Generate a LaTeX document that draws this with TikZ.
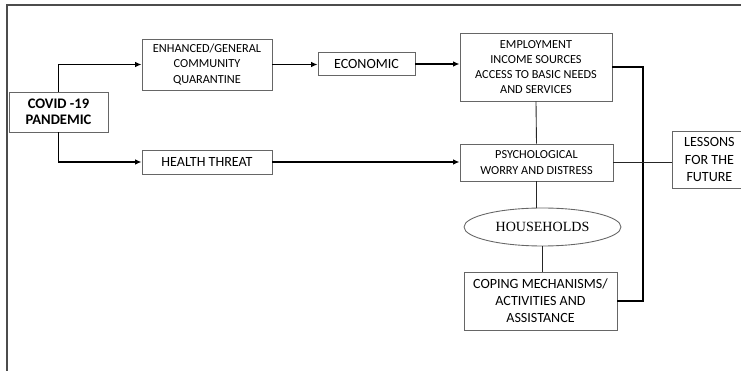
\documentclass[tikz,border=0pt]{standalone}
\usepackage{fontspec}
\setmainfont{Carlito}
\newfontfamily\hhserif{Liberation Serif}
\usepackage{tikz}
\usetikzlibrary{arrows.meta,positioning,shapes.geometric}

\begin{document}
\begin{tikzpicture}[
  x=0.02cm, y=-0.02cm,
  font=\fontsize{7}{8.6}\selectfont,
  box/.style   ={rectangle, draw=black!60, line width=0.5pt, fill=white,
                 inner sep=1pt, align=center},
  oval/.style  ={ellipse, draw=black!60, line width=0.5pt, inner sep=0pt,
                 font=\hhserif\fontsize{8}{9}\selectfont},
  arr/.style   ={-{Latex[length=1.3mm,width=1.1mm]}, draw=black, line width=0.8pt},
  lnk/.style   ={draw=black, line width=0.8pt},
  thin/.style  ={draw=black!85, line width=0.5pt},
  frame/.style ={draw=black!70, line width=0.9pt}
]
\useasboundingbox (0,0) rectangle (741,371);

% outer frame (only top and left show)
\draw[frame] (741,5) -- (7,5) -- (7,371);

\node[box, minimum width=1.98cm, minimum height=0.8cm,
      font=\bfseries\fontsize{8.3}{9}\selectfont] (covid) at (58.5,112) {COVID -19\\PANDEMIC};
\node[box, minimum width=2.6cm, minimum height=1.02cm] (quar) at (207,64.5)
      {ENHANCED/GENERAL\\COMMUNITY\\QUARANTINE};
\node[box, minimum width=1.94cm, minimum height=0.46cm,
      font=\fontsize{8}{9}\selectfont] (econ) at (366.5,64) {ECONOMIC};
\node[box, minimum width=3.04cm, minimum height=1.36cm] (emp) at (536,67)
      {EMPLOYMENT\\INCOME SOURCES\\ACCESS TO BASIC NEEDS\\AND SERVICES};
\node[box, minimum width=2.6cm, minimum height=0.48cm,
      font=\fontsize{8}{9}\selectfont] (health) at (207,162) {HEALTH THREAT};
\node[box, minimum width=3.06cm, minimum height=0.74cm] (psych) at (536.5,162.5)
      {PSYCHOLOGICAL\\WORRY AND DISTRESS};
\node[oval, minimum width=3.14cm, minimum height=0.76cm] (house) at (542.5,227) {HOUSEHOLDS};
\node[box, minimum width=3.06cm, minimum height=1.16cm,
      font=\fontsize{8}{9.6}\selectfont] (coping) at (540.5,301)
      {COPING MECHANISMS/\\ACTIVITIES AND\\ASSISTANCE};
\node[box, minimum width=1.48cm, minimum height=1.14cm, anchor=west,
      font=\fontsize{8}{10}\selectfont] (lessons) at (672,159.5)
      {LESSONS\\FOR THE\\FUTURE};

\coordinate (brk) at (643,0);

\draw[arr] (covid.north) |- (quar.west);
\draw[arr] (covid.south) |- (health.west);
\draw[arr] (quar.east) -- (econ.west |- quar.east);
\draw[arr] (econ.east) -- (emp.west |- econ.east);
\draw[arr] (health.east) -- (psych.west |- health.east);

\draw[thin] (emp.south) -- (psych.north);
\draw[thin] (psych.south) -- (psych.south |- house.north);
\draw[thin] (house.south) -- (house.south |- coping.north);

\draw[lnk] (emp.east) -- (emp.east -| brk) -- (coping.east -| brk) -- (coping.east);
\draw[thin] (psych.east) -- (psych.east -| lessons.west);
\end{tikzpicture}
\end{document}
